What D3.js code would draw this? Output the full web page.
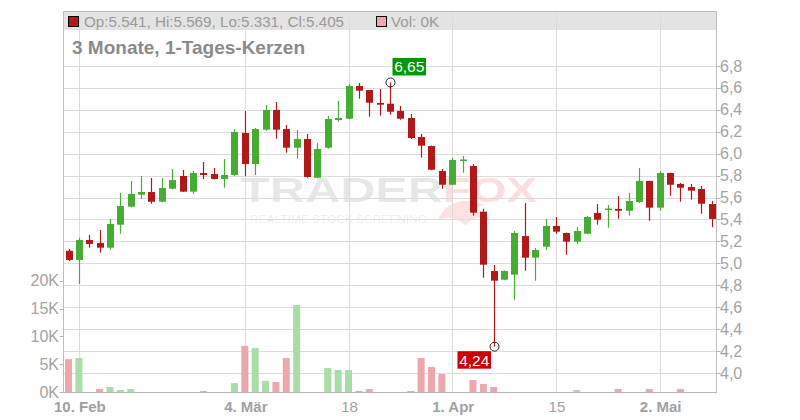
<!DOCTYPE html>
<html><head><meta charset="utf-8">
<script src="https://cdn.jsdelivr.net/npm/d3@7"></script>
<style>html,body{margin:0;padding:0;background:#fff;}svg{display:block;font-family:"Liberation Sans",Arial,sans-serif;}</style>
</head><body>
<svg id="c" width="800" height="420"></svg>
<script>
const dates = ["2025-02-07","2025-02-10","2025-02-11","2025-02-12","2025-02-13","2025-02-14","2025-02-17","2025-02-18","2025-02-19","2025-02-20","2025-02-21","2025-02-24","2025-02-25","2025-02-26","2025-02-27","2025-02-28",
"2025-03-03","2025-03-04","2025-03-05","2025-03-06","2025-03-07","2025-03-10","2025-03-11","2025-03-12","2025-03-13","2025-03-14","2025-03-17","2025-03-18","2025-03-19","2025-03-20","2025-03-21","2025-03-24","2025-03-25","2025-03-26","2025-03-27","2025-03-28","2025-03-31",
"2025-04-01","2025-04-02","2025-04-03","2025-04-04","2025-04-07","2025-04-08","2025-04-09","2025-04-10","2025-04-11","2025-04-14","2025-04-15","2025-04-16","2025-04-17","2025-04-22","2025-04-23","2025-04-24","2025-04-25","2025-04-28","2025-04-29","2025-04-30",
"2025-05-02","2025-05-05","2025-05-06","2025-05-07","2025-05-08","2025-05-09"];
const open  = [5.115,5.031,5.213,5.186,5.143,5.353,5.517,5.626,5.651,5.562,5.681,5.797,5.654,5.824,5.815,5.769,5.806,6.189,5.906,6.219,6.399,6.225,6.055,6.134,5.781,6.055,6.307,6.319,6.618,6.581,6.463,6.456,6.390,6.326,6.152,6.070,5.842,5.717,5.938,5.888,5.471,4.930,4.851,4.897,5.249,5.052,5.152,5.341,5.277,5.198,5.270,5.459,5.491,5.496,5.480,5.560,5.751,5.508,5.824,5.724,5.696,5.678,5.541];
const high  = [5.131,5.234,5.259,5.304,5.405,5.642,5.751,5.797,5.778,5.778,5.861,5.851,5.842,5.924,5.870,5.952,6.225,6.390,6.235,6.444,6.472,6.262,6.216,6.180,6.098,6.344,6.481,6.636,6.645,6.581,6.590,6.650,6.435,6.362,6.180,6.075,5.861,5.961,5.979,5.906,5.498,4.985,4.935,5.295,5.550,5.140,5.405,5.423,5.280,5.332,5.432,5.541,5.532,5.614,5.642,5.870,5.755,5.842,5.828,5.733,5.724,5.706,5.569];
const low   = [5.021,4.814,5.143,5.097,5.124,5.270,5.512,5.590,5.544,5.557,5.676,5.650,5.635,5.769,5.765,5.690,5.797,5.797,5.806,6.210,6.137,6.009,5.955,5.781,5.776,6.046,6.292,6.315,6.502,6.338,6.347,6.356,6.310,6.134,5.964,5.850,5.681,5.712,5.827,5.435,4.869,4.240,4.846,4.668,4.933,4.842,5.124,5.270,5.079,5.179,5.266,5.353,5.325,5.407,5.435,5.550,5.389,5.480,5.617,5.562,5.581,5.453,5.331];
const close = [5.031,5.213,5.177,5.143,5.359,5.523,5.633,5.651,5.562,5.687,5.760,5.654,5.824,5.806,5.769,5.806,6.198,5.906,6.225,6.399,6.219,6.055,6.134,5.788,6.043,6.317,6.326,6.618,6.575,6.465,6.447,6.383,6.319,6.143,6.073,5.854,5.717,5.943,5.947,5.462,4.988,4.842,4.930,5.277,5.052,5.122,5.341,5.289,5.198,5.295,5.423,5.398,5.500,5.480,5.569,5.751,5.508,5.824,5.717,5.690,5.663,5.544,5.405];
const volume = [5900,6100,0,540,900,360,540,0,0,0,0,0,0,180,0,0,1600,8300,7900,2000,1800,6100,15650,0,0,4300,3950,3950,180,540,0,0,0,180,6100,4500,3250,0,0,2150,1450,900,0,0,0,0,0,0,0,360,0,0,0,540,0,0,540,0,0,540,0,0,0];
const priceTicks = [4.0,4.2,4.4,4.6,4.8,5.0,5.2,5.4,5.6,5.8,6.0,6.2,6.4,6.6,6.8];
const volTicks = [0,5000,10000,15000,20000];
const xTickDates = ["2025-02-10","2025-03-04","2025-03-18","2025-04-01","2025-04-15","2025-05-02"];
const xTickLabels = ["10. Feb","4. Mär","18","1. Apr","15","2. Mai"];
const xTickBold = [true,true,false,true,false,true];
const titleText = "3 Monate, 1-Tages-Kerzen";

const L = 63.5, R = 716.5, T = 11.5, B = 392.5;
const svg = d3.select("#c");
const x = d3.scalePoint().domain(dates).range([68.5, 711.5]);
const y = d3.scaleLinear().domain([4.0, 6.8]).range([373, 66]);
const yv = d3.scaleLinear().domain([0, 20000]).range([392, 280.7]);
const fmt = v => d3.format(".1f")(v).replace(".", ",");
const fmt2 = v => d3.format(".2f")(v).replace(".", ",");
const RED = "#b21818", GREEN = "#47ac33", VRED = "#eea6ad", VGREEN = "#a9dca6";
const data = dates.map((d,i)=>({d, o:open[i], h:high[i], l:low[i], c:close[i], v:volume[i]}));

// header band
svg.append("rect").attr("x", L).attr("y", T).attr("width", R-L).attr("height", 30-T).attr("fill", "#e3e3e3");

// watermark
const wm = svg.append("g");
wm.append("text").attr("x", 240).attr("y", 202).attr("textLength", 203).attr("lengthAdjust","spacingAndGlyphs")
  .attr("font-size", 35).attr("font-weight","bold").attr("fill","#000").attr("fill-opacity",0.095).text("TRADER");
wm.append("text").attr("x", 443).attr("y", 202).attr("textLength", 94).attr("lengthAdjust","spacingAndGlyphs")
  .attr("font-size", 35).attr("font-weight","bold").attr("fill","#e8303c").attr("fill-opacity",0.17).text("FOX");
wm.append("path").attr("d","M438,220 C445,200 470,196 486,206 C478,205 470,208 468,214 C476,210 486,212 490,220 C480,216 470,218 466,226 C458,218 446,216 438,220 Z")
  .attr("fill","#e8303c").attr("fill-opacity",0.14);
wm.append("text").attr("x", 250).attr("y", 223).attr("textLength", 177).attr("lengthAdjust","spacingAndGlyphs")
  .attr("font-size", 10).attr("fill","#000").attr("fill-opacity",0.09).text("REALTIME STOCK SCREENING");

// horizontal grid
svg.append("g").selectAll("line").data(priceTicks).join("line")
  .attr("x1", L).attr("x2", R).attr("y1", d=>Math.round(y(d))+0.5).attr("y2", d=>Math.round(y(d))+0.5)
  .attr("stroke","#dcdcdc").attr("stroke-width",1);
// vertical grid
svg.append("g").selectAll("line").data(xTickDates).join("line")
  .attr("x1", d=>Math.round(x(d))+0.5).attr("x2", d=>Math.round(x(d))+0.5).attr("y1", T).attr("y2", B)
  .attr("stroke","#dcdcdc").attr("stroke-width",1);

// frame
svg.append("path").attr("d", `M${L},${B} L${L},${T} L${R},${T} L${R},${B} Z`).attr("fill","none").attr("stroke","#bdbdbd").attr("stroke-width",1);
svg.append("line").attr("x1",L).attr("x2",R).attr("y1",B).attr("y2",B).attr("stroke","#b5b5b5");

// volume bars
svg.append("g").selectAll("rect").data(data.filter(d=>d.v>0)).join("rect")
  .attr("x", d=>x(d.d)-3.5).attr("width", 7).attr("y", d=>yv(d.v)).attr("height", d=>yv(0)-yv(d.v))
  .attr("fill", d=>d.c>=d.o ? VGREEN : VRED);

// candles
const cg = svg.append("g").selectAll("g").data(data).join("g");
cg.append("line").attr("x1", d=>Math.round(x(d.d))+0.5).attr("x2", d=>Math.round(x(d.d))+0.5)
  .attr("y1", d=>y(d.h)).attr("y2", d=>y(d.l)).attr("stroke", d=>d.c>=d.o?GREEN:RED).attr("stroke-width",1.2);
cg.append("rect").attr("x", d=>Math.round(x(d.d))-3).attr("width", 7)
  .attr("y", d=>y(Math.max(d.o,d.c))).attr("height", d=>Math.max(1.5, Math.abs(y(d.o)-y(d.c))))
  .attr("fill", d=>d.c>=d.o?GREEN:RED);

// right price axis
const ra = svg.append("g");
ra.selectAll("line").data(priceTicks).join("line").attr("x1",R).attr("x2",R+4)
  .attr("y1", d=>Math.round(y(d))+0.5).attr("y2", d=>Math.round(y(d))+0.5).attr("stroke","#b5b5b5");
ra.selectAll("text").data(priceTicks).join("text").attr("x", 720).attr("y", d=>y(d)+5.5)
  .attr("font-size",16).attr("fill","#a3a3a3").text(fmt);

// left volume axis
const la = svg.append("g");
la.selectAll("line").data(volTicks).join("line").attr("x1",L-4).attr("x2",L)
  .attr("y1", d=>Math.round(yv(d))+0.5).attr("y2", d=>Math.round(yv(d))+0.5).attr("stroke","#b5b5b5");
la.selectAll("text").data(volTicks).join("text").attr("x", 59).attr("y", d=>yv(d)+5.5).attr("text-anchor","end")
  .attr("font-size",16).attr("fill","#a3a3a3").text(d=>(d/1000)+"K");

// x axis labels
svg.append("g").selectAll("text").data(xTickDates).join("text")
  .attr("x", d=>x(d)+1).attr("y", 412).attr("text-anchor","middle").attr("font-size",15)
  .attr("font-weight",(d,i)=>xTickBold[i]?"bold":"normal").attr("fill","#a0a0a0")
  .text((d,i)=>xTickLabels[i]);

// header legend
const last = data[data.length-1];
svg.append("rect").attr("x",68.5).attr("y",16.5).attr("width",10).attr("height",10).attr("fill",RED).attr("stroke","#000");
svg.append("text").attr("x",84).attr("y",27).attr("font-size",15.2).attr("fill","#9a9a9a")
  .text(`Op:${last.o.toFixed(3)}, Hi:${last.h.toFixed(3)}, Lo:${last.l.toFixed(3)}, Cl:${last.c.toFixed(3)}`);
svg.append("rect").attr("x",376.5).attr("y",16.5).attr("width",10).attr("height",10).attr("fill",VRED).attr("stroke","#000");
svg.append("text").attr("x",391).attr("y",27).attr("font-size",15.2).attr("fill","#9a9a9a").text(`Vol: ${last.v/1000}K`);

// title
svg.append("text").attr("x",72).attr("y",54).attr("font-size",19).attr("font-weight","bold").attr("fill","#8a8a8a").text(titleText);

// high / low markers
const hiD = data.reduce((a,b)=>b.h>a.h?b:a);
const loD = data.reduce((a,b)=>b.l<a.l?b:a);
const hx = Math.round(x(hiD.d))+0.5, hy = y(hiD.h);
svg.append("circle").attr("cx",hx).attr("cy",hy).attr("r",4.5).attr("fill","none").attr("stroke","#222");
svg.append("rect").attr("x",hx+2).attr("y",hy-24.5).attr("width",33.5).attr("height",17.5).attr("fill","#009a00");
svg.append("text").attr("x",hx+18.75).attr("y",hy-10).attr("text-anchor","middle").attr("font-size",15.5).attr("fill","#fff").text(fmt2(hiD.h));
const lx = Math.round(x(loD.d))+0.5, ly = y(loD.l);
svg.append("circle").attr("cx",lx).attr("cy",ly).attr("r",4.5).attr("fill","none").attr("stroke","#222");
svg.append("rect").attr("x",lx-37).attr("y",ly+4.5).attr("width",33.5).attr("height",17.5).attr("fill","#cc0000");
svg.append("text").attr("x",lx-20.25).attr("y",ly+19).attr("text-anchor","middle").attr("font-size",15.5).attr("fill","#fff").text(fmt2(loD.l));
</script>
</body></html>
